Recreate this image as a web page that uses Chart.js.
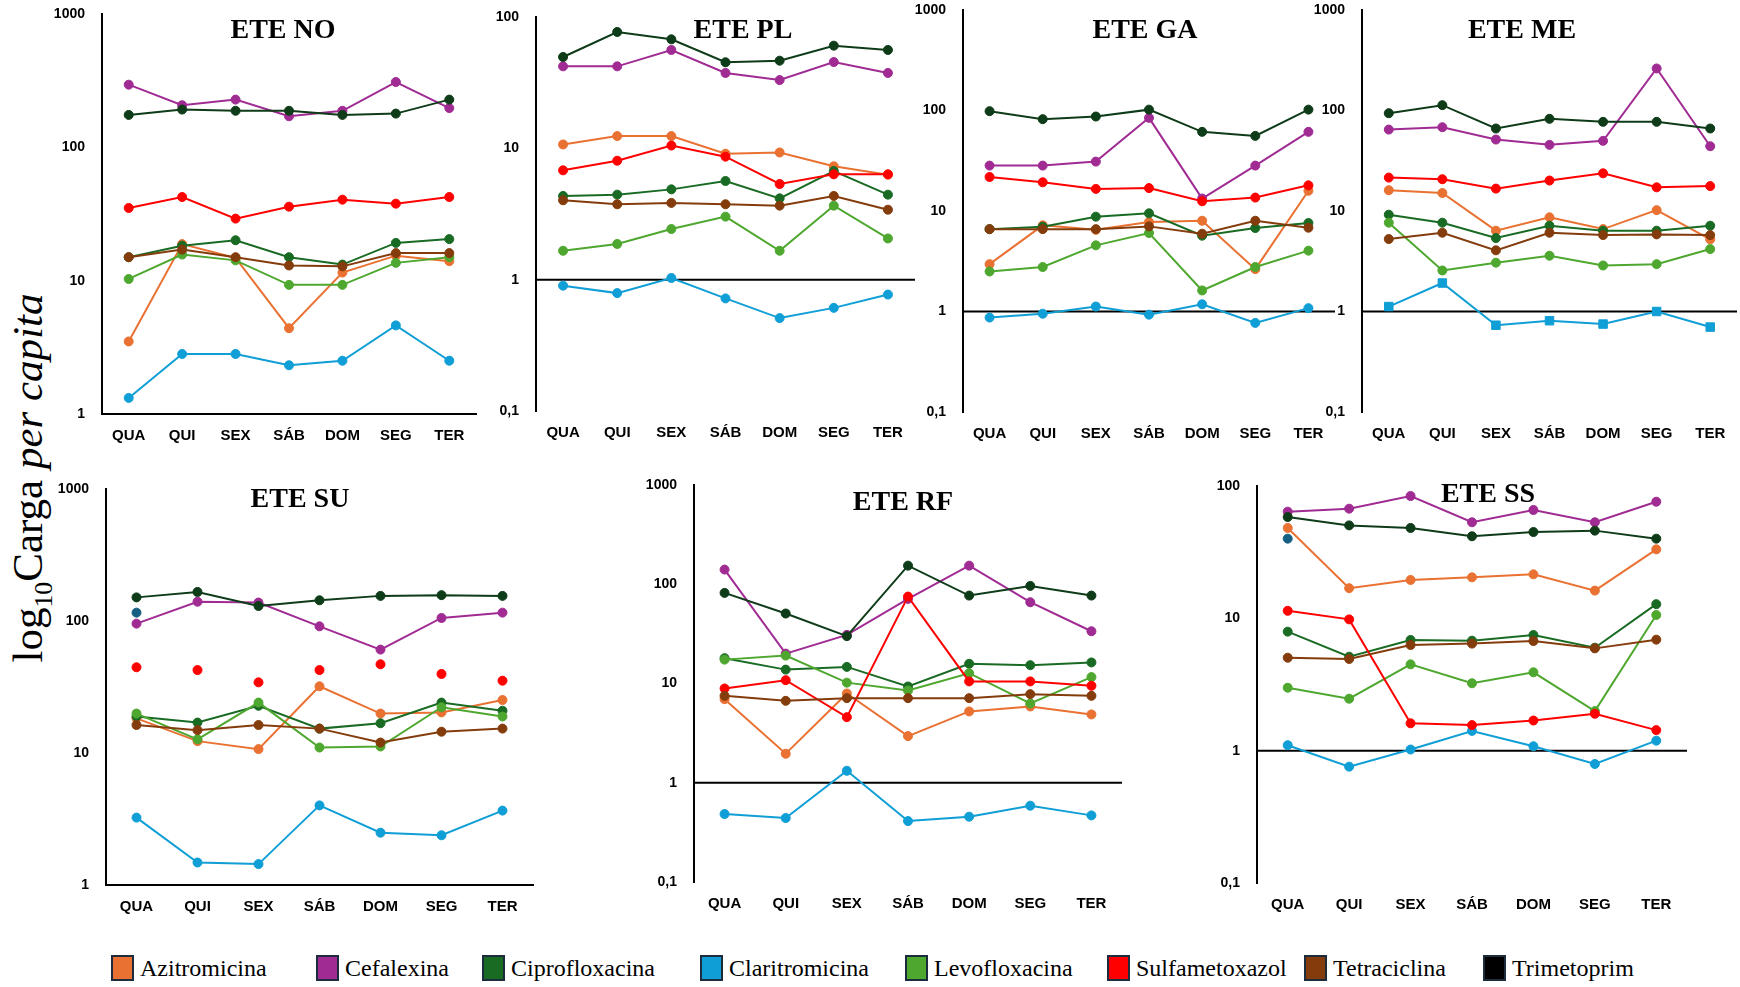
<!DOCTYPE html>
<html lang="pt">
<head>
<meta charset="utf-8">
<title>Carga per capita por ETE</title>
<script src="https://cdn.jsdelivr.net/npm/chart.js@4.4.1/dist/chart.umd.min.js"></script>
<style>
  html, body { margin: 0; padding: 0; background: #fff; }
  body { width: 1740px; height: 987px; position: relative; overflow: hidden; font-family: 'Liberation Serif', 'Times New Roman', serif; color: #000; }
  canvas { position: absolute; }
  .title { position: absolute; transform: translate(-50%, -50%); font-weight: bold; font-size: 28px; white-space: nowrap; }
  .ytitle { position: absolute; left: 31px; top: 478px; transform: translate(-50%, -50%) rotate(-90deg); font-size: 43px; white-space: nowrap; }
  .ytitle sub { font-size: 60%; }
  .legend-item { position: absolute; top: 955px; height: 26px; display: flex; align-items: center; font-size: 24px; white-space: nowrap; }
  .swatch { width: 19px; height: 22px; border: 2px solid #1c2c3c; margin-right: 6px; }
</style>
</head>
<body>
<div class="ytitle">log<sub>10</sub>Carga <i>per capita</i></div>
<script>
const days = ['QUA', 'QUI', 'SEX', 'SÁB', 'DOM', 'SEG', 'TER'];
const drugs = ['Azitromicina', 'Cefalexina', 'Ciprofloxacina', 'Claritromicina', 'Levofloxacina', 'Sulfametoxazol', 'Tetraciclina', 'Trimetoprim'];
const drugColors = ['#E97132', '#A02B93', '#196B24', '#0F9ED5', '#4EA72E', '#FF0000', '#843C0C', '#0E3B18'];
const legendColors = ['#E97132', '#A02B93', '#196B24', '#0F9ED5', '#4EA72E', '#FF0000', '#843C0C', '#000000'];
const tickValues = [0.1, 1, 10, 100, 1000];
const tickLabels = ['0,1', '1', '10', '100', '1000'];

// one row per drug, same order as `drugs`
const valuesNO = [
  [3.5, 18.8, 14.8, 4.4, 11.5, 15.4, 14.0],
  [295, 207, 228, 171, 188, 309, 197],
  [15.0, 18.3, 20.1, 15.0, 13.2, 19.2, 20.5],
  [1.32, 2.82, 2.82, 2.32, 2.51, 4.62, 2.51],
  [10.3, 15.7, 14.2, 9.3, 9.3, 13.6, 15.0],
  [35.1, 42.4, 29.2, 35.9, 40.5, 37.8, 42.4],
  [15.0, 17.1, 15.0, 13.0, 12.8, 16.1, 16.1],
  [175, 192, 188, 188, 175, 179, 228]
];
const valuesPL = [
  [10.7, 12.4, 12.4, 9.1, 9.3, 7.3, 6.3],
  [42.1, 42.1, 56.1, 37.5, 33.1, 45.4, 37.5],
  [4.34, 4.44, 4.87, 5.64, 4.16, 6.72, 4.44],
  [0.9, 0.79, 1.03, 0.72, 0.51, 0.61, 0.77],
  [1.66, 1.87, 2.43, 3.02, 1.66, 3.66, 2.06],
  [6.8, 8.05, 10.5, 8.64, 5.35, 6.34, 6.34],
  [4.02, 3.75, 3.84, 3.75, 3.66, 4.34, 3.41],
  [49.6, 76.9, 67.6, 45.2, 46.5, 60.5, 56.1]
];
const valuesGA = [
  [2.96, 7.2, 6.5, 7.77, 8.0, 2.64, 15.9],
  [28.3, 28.3, 31.0, 84.5, 13.3, 28.3, 61.3],
  [6.6, 6.98, 8.78, 9.48, 5.68, 6.77, 7.59],
  [0.87, 0.95, 1.12, 0.93, 1.18, 0.77, 1.08],
  [2.5, 2.77, 4.55, 6.04, 1.62, 2.77, 4.03],
  [21.8, 19.3, 16.6, 16.9, 12.5, 13.6, 18.0],
  [6.6, 6.6, 6.6, 7.03, 5.94, 8.0, 6.82],
  [98.5, 82, 87.1, 102, 61.3, 55.9, 102]
];
const valuesME = [
  [16.1, 15.1, 6.37, 8.65, 6.61, 10.2, 5.22],
  [64.6, 68.2, 51.4, 45.5, 49.9, 262, 44.1],
  [9.19, 7.65, 5.38, 7.14, 6.37, 6.37, 7.14],
  [1.12, 1.92, 0.73, 0.81, 0.75, 1.0, 0.7],
  [7.65, 2.56, 3.06, 3.59, 2.87, 2.96, 4.18],
  [21.5, 20.7, 16.7, 20.1, 23.7, 17.2, 17.7],
  [5.26, 6.08, 4.06, 6.08, 5.76, 5.85, 5.76],
  [94, 113, 66.2, 82.6, 77.1, 77.1, 66.2]
];
const valuesSU = [
  [18.3, 12.3, 10.7, 32.0, 19.9, 20.3, 25.2],
  [95.5, 140, 138, 91.1, 60.7, 105.4, 115.7],
  [18.9, 17.0, 22.8, 15.3, 16.8, 24.1, 20.9],
  [3.24, 1.48, 1.44, 4.01, 2.49, 2.38, 3.66],
  [19.9, 12.7, 24.1, 11.0, 11.2, 22.2, 18.9],
  [44.6, 42.5, 34.3, 42.5, 47.0, 39.7, 35.3],
  [16.3, 14.9, 16.3, 15.3, 12.0, 14.5, 15.3],
  [151, 166, 130, 143.5, 155, 157, 155]
];
const valuesRF = [
  [6.95, 1.96, 7.93, 2.95, 5.23, 5.87, 4.88],
  [140.5, 20.0, 30.9, 71.2, 154, 65.9, 33.6],
  [18.0, 13.8, 14.7, 9.33, 15.8, 15.3, 16.3],
  [0.484, 0.441, 1.32, 0.411, 0.455, 0.587, 0.469],
  [17.4, 19.1, 10.2, 8.5, 12.7, 6.29, 11.6],
  [8.91, 10.8, 4.58, 75.1, 10.5, 10.5, 9.48],
  [7.51, 6.69, 7.12, 7.12, 7.12, 7.81, 7.51],
  [81.8, 50.7, 30.0, 154, 76.9, 96.2, 76.9]
];
const valuesSS = [
  [48.2, 16.9, 19.5, 20.4, 21.5, 16.2, 33.2],
  [64.0, 67.4, 84.0, 53.2, 65.9, 53.2, 76.1],
  [7.93, 5.13, 6.86, 6.78, 7.48, 6.0, 12.8],
  [1.10, 0.757, 1.02, 1.41, 1.08, 0.793, 1.19],
  [2.99, 2.47, 4.49, 3.23, 3.91, 1.99, 10.6],
  [11.4, 9.82, 1.61, 1.56, 1.69, 1.90, 1.43],
  [5.04, 4.93, 6.29, 6.44, 6.74, 5.93, 6.9],
  [58.3, 50.4, 48.2, 41.7, 44.9, 46.0, 40.0]
];
// single extra point seen at QUA in two panels
const extraSU = [115.7, null, null, null, null, null, null];
const extraSS = [40.0, null, null, null, null, null, null];

const panels = [
  { title: 'ETE NO', values: valuesNO, left: 102, right: 476, top: 14, bottom: 414, min: 1, max: 1000, bottomAxis: true, titleX: 283, titleY: 29 },
  { title: 'ETE PL', values: valuesPL, left: 536, right: 915, top: 17, bottom: 411, min: 0.1, max: 100, unityLine: true, titleX: 743, titleY: 29 },
  { title: 'ETE GA', values: valuesGA, left: 963, right: 1335, top: 10, bottom: 412, min: 0.1, max: 1000, unityLine: true, titleX: 1145, titleY: 29 },
  { title: 'ETE ME', values: valuesME, left: 1362, right: 1737, top: 10, bottom: 412, min: 0.1, max: 1000, unityLine: true, squares: [3], titleX: 1522, titleY: 29 },
  { title: 'ETE SU', values: valuesSU, extra: extraSU, left: 106, right: 533, top: 489, bottom: 885, min: 1, max: 1000, bottomAxis: true, dotsOnly: [5], titleX: 300, titleY: 498 },
  { title: 'ETE RF', values: valuesRF, left: 694, right: 1122, top: 485, bottom: 882, min: 0.1, max: 1000, unityLine: true, titleX: 903, titleY: 501 },
  { title: 'ETE SS', values: valuesSS, extra: extraSS, left: 1257, right: 1687, top: 486, bottom: 883, min: 0.1, max: 100, unityLine: true, titleX: 1488, titleY: 493 }
];

// black line across the plot at value 1
const unityLine = {
  id: 'unityLine',
  beforeDatasetsDraw(chart, args, opts) {
    if (!opts.show) return;
    const { ctx, chartArea } = chart;
    const y = chart.scales.y.getPixelForValue(1);
    ctx.save();
    ctx.strokeStyle = '#000';
    ctx.lineWidth = 2;
    ctx.beginPath();
    ctx.moveTo(chartArea.left, y);
    ctx.lineTo(chartArea.right, y);
    ctx.stroke();
    ctx.restore();
  }
};

const YW = 60, XH = 40, PT = 12, PR = 10;
const tickFont = { family: "'Liberation Sans', Arial, sans-serif", weight: 'bold' };

panels.forEach(p => {
  const canvas = document.createElement('canvas');
  const w = YW + (p.right - p.left) + PR;
  const h = PT + (p.bottom - p.top) + XH;
  canvas.width = w;
  canvas.height = h;
  canvas.style.left = (p.left - YW) + 'px';
  canvas.style.top = (p.top - PT) + 'px';
  canvas.style.width = w + 'px';
  canvas.style.height = h + 'px';
  document.body.appendChild(canvas);

  const datasets = p.values.map((vals, i) => {
    const square = p.squares && p.squares.includes(i);
    return {
      label: drugs[i],
      data: vals,
      borderColor: drugColors[i],
      backgroundColor: drugColors[i],
      borderWidth: 2,
      pointStyle: square ? 'rect' : 'circle',
      pointRadius: square ? 6 : 4.5,
      pointBorderWidth: 1,
      tension: 0,
      clip: false,
      showLine: !(p.dotsOnly && p.dotsOnly.includes(i)),
      order: drugs.length - i + 1
    };
  });
  if (p.extra) {
    datasets.push({
      label: '', data: p.extra, borderColor: '#156082', backgroundColor: '#156082',
      showLine: false, pointRadius: 4.5, pointBorderWidth: 1, clip: false, order: 0
    });
  }

  new Chart(canvas, {
    type: 'line',
    data: { labels: days, datasets },
    options: {
      responsive: false,
      animation: false,
      events: [],
      layout: { padding: { top: PT, right: PR, left: 0, bottom: 0 } },
      plugins: {
        legend: { display: false },
        tooltip: { enabled: false },
        unityLine: { show: !!p.unityLine }
      },
      scales: {
        x: {
          type: 'category',
          offset: true,
          grid: { display: false, drawTicks: false },
          border: { display: !!p.bottomAxis, color: '#000', width: 2 },
          ticks: { color: '#000', font: { ...tickFont, size: 15 }, padding: 13, autoSkip: false, maxRotation: 0, minRotation: 0 },
          afterFit: s => { s.height = XH; s.paddingLeft = 0; s.paddingRight = 0; }
        },
        y: {
          type: 'logarithmic',
          min: p.min,
          max: p.max,
          grid: { display: false, drawTicks: false },
          border: { display: true, color: '#000', width: 2 },
          ticks: {
            color: '#000',
            font: { ...tickFont, size: 14 },
            padding: 17,
            callback: v => tickLabels[tickValues.indexOf(v)] ?? ''
          },
          afterBuildTicks: s => {
            s.ticks = tickValues.filter(v => v >= p.min && v <= p.max).map(v => ({ value: v }));
          },
          afterFit: s => { s.width = YW; s.paddingTop = 0; s.paddingBottom = 0; }
        }
      }
    },
    plugins: [unityLine]
  });

  const t = document.createElement('div');
  t.className = 'title';
  t.textContent = p.title;
  t.style.left = p.titleX + 'px';
  t.style.top = p.titleY + 'px';
  document.body.appendChild(t);
});

// legend along the bottom
const legendLefts = [111, 316, 482, 700, 905, 1107, 1304, 1483];
drugs.forEach((name, i) => {
  const item = document.createElement('div');
  item.className = 'legend-item';
  item.style.left = legendLefts[i] + 'px';
  item.innerHTML = `<span class="swatch" style="background:${legendColors[i]}"></span>${name}`;
  document.body.appendChild(item);
});
</script>
</body>
</html>
